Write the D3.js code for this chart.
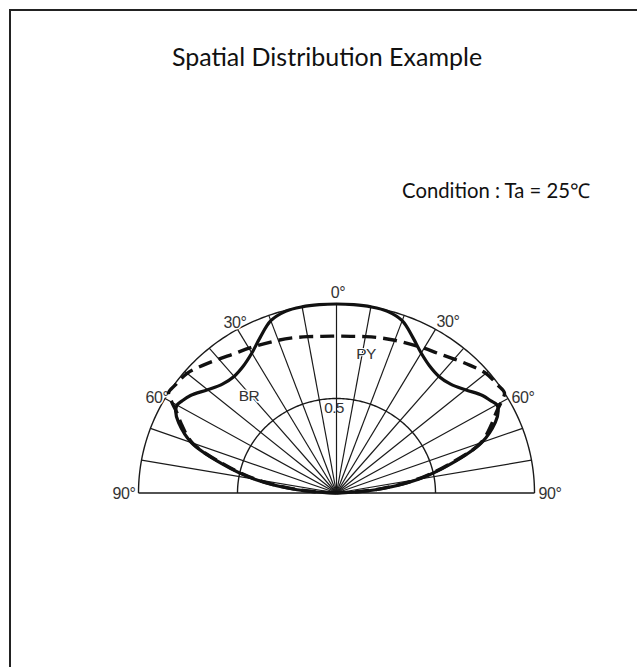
<!DOCTYPE html>
<html>
<head>
<meta charset="utf-8">
<script src="https://cdn.jsdelivr.net/npm/d3@7.9.0/dist/d3.min.js"></script>
<style>
  html, body { margin: 0; padding: 0; background: #fff; overflow: hidden; }
  svg { display: block; }
</style>
</head>
<body>
<div id="chart"></div>
<script>
// ---------- DATA ----------
const titleText = 'Spatial Distribution Example';
const conditionText = 'Condition : Ta = 25\u2103';

// angle in degrees from the 0° axis (negative = left side)
const curveAngles = [-90, -85, -80, -75, -70, -65, -62, -60, -58, -55, -50, -45, -40, -35, -30, -25, -20, -15, -10, -5,
  0, 5, 10, 15, 20, 25, 30, 35, 40, 45, 50, 55, 58, 60, 62, 65, 70, 75, 80, 85, 90];

// relative intensity, BR (solid)
const brValues = [0, 0.2, 0.42, 0.6, 0.78, 0.88, 0.92, 0.93, 0.92, 0.9, 0.85, 0.815, 0.805, 0.82, 0.855, 0.91, 0.97, 0.995, 1.0, 1.0,
  1.0, 1.0, 1.0, 0.995, 0.97, 0.91, 0.855, 0.82, 0.805, 0.815, 0.85, 0.9, 0.92, 0.935, 0.925, 0.885, 0.78, 0.6, 0.42, 0.2, 0];

// relative intensity, PY (dashed)
const pyValues = [0, 0.19, 0.41, 0.59, 0.775, 0.865, 0.915, 0.96, 1.0, 0.995, 0.985, 0.955, 0.925, 0.9, 0.885, 0.87, 0.86, 0.85, 0.84, 0.832,
  0.83, 0.832, 0.84, 0.85, 0.86, 0.87, 0.885, 0.9, 0.925, 0.955, 0.985, 0.995, 1.0, 0.96, 0.915, 0.865, 0.775, 0.59, 0.41, 0.19, 0];

const spokeAngles = [-80, -70, -60, -50, -40, -30, -20, -10, 0, 10, 20, 30, 40, 50, 60, 70, 80];
const ringValues = [0.5, 1.0];

const angleLabelAngles = [-90, -60, -30, 0, 30, 60, 90];
const angleLabelTexts = ['90°', '60°', '30°', '0°', '30°', '60°', '90°'];

// ---------- LAYOUT ----------
const width = 637;
const height = 667;
const cx = 336.5;
const cy = 493;
const rx = 198;
const ry = 189;

const svg = d3.select('#chart')
  .append('svg')
  .attr('width', width)
  .attr('height', height);

// frame: only the left and top edges are inside the crop
svg.append('path')
  .attr('d', `M10,${height} V10 H${width}`)
  .attr('fill', 'none')
  .attr('stroke', '#222')
  .attr('stroke-width', 2);

svg.append('text')
  .attr('x', 327)
  .attr('y', 66)
  .attr('text-anchor', 'middle')
  .attr('font-family', 'Lato, "Open Sans", sans-serif')
  .attr('font-size', 25)
  .attr('fill', '#111')
  .text(titleText);

svg.append('text')
  .attr('x', 590)
  .attr('y', 198)
  .attr('text-anchor', 'end')
  .attr('font-family', 'Lato, "Open Sans", sans-serif')
  .attr('font-size', 20.3)
  .attr('fill', '#111')
  .text(conditionText);

// ---------- SCALES ----------
const angleScale = d3.scaleLinear().domain([-90, 90]).range([-Math.PI / 2, Math.PI / 2]);
const rScaleX = d3.scaleLinear().domain([0, 1]).range([0, rx]);
const rScaleY = d3.scaleLinear().domain([0, 1]).range([0, ry]);

const px = (deg, r) => cx + rScaleX(r) * Math.sin(angleScale(deg));
const py = (deg, r) => cy - rScaleY(r) * Math.cos(angleScale(deg));

const g = svg.append('g');

// ---------- GRID ----------
const gridColor = '#1a1a1a';

g.append('g')
  .attr('class', 'spokes')
  .selectAll('line')
  .data(spokeAngles)
  .join('line')
  .attr('x1', cx)
  .attr('y1', cy)
  .attr('x2', (d) => px(d, 1))
  .attr('y2', (d) => py(d, 1))
  .attr('stroke', gridColor)
  .attr('stroke-width', 1.2);

const arcLine = d3.line()
  .x((d) => d[0])
  .y((d) => d[1]);

g.append('g')
  .attr('class', 'rings')
  .selectAll('path')
  .data(ringValues)
  .join('path')
  .attr('d', (r) => arcLine(d3.range(-90, 90.5, 1).map((a) => [px(a, r), py(a, r)])))
  .attr('fill', 'none')
  .attr('stroke', gridColor)
  .attr('stroke-width', 1.4);

// baseline
g.append('line')
  .attr('x1', px(-90, 1))
  .attr('y1', cy)
  .attr('x2', px(90, 1))
  .attr('y2', cy)
  .attr('stroke', gridColor)
  .attr('stroke-width', 1.4);

// ---------- LABELS ----------
const labelFont = '"Liberation Sans", Arial, sans-serif';
const labelPos = {
  '-90': [124, 499],
  '-60': [157, 403],
  '-30': [235, 328],
  '0': [338, 298],
  '30': [448, 327],
  '60': [523, 403],
  '90': [550, 499],
};

g.append('g')
  .selectAll('text')
  .data(angleLabelAngles)
  .join('text')
  .attr('x', (d) => labelPos[d][0])
  .attr('y', (d) => labelPos[d][1])
  .attr('text-anchor', 'middle')
  .attr('font-family', labelFont)
  .attr('font-size', 16)
  .attr('letter-spacing', -0.4)
  .attr('fill', '#333')
  .attr('stroke', '#fff')
  .attr('stroke-width', 3)
  .attr('paint-order', 'stroke')
  .text((d, i) => angleLabelTexts[i]);

g.append('text')
  .attr('x', 334)
  .attr('y', 413)
  .attr('text-anchor', 'middle')
  .attr('font-family', labelFont)
  .attr('font-size', 15.5)
  .attr('letter-spacing', -0.6)
  .attr('fill', '#333')
  .text('0.5');

// ---------- CURVES ----------
const curveLine = d3.line()
  .x((d) => px(d.a, d.r))
  .y((d) => py(d.a, d.r))
  .curve(d3.curveCatmullRom.alpha(0.5));

const brData = curveAngles.map((a, i) => ({ a, r: brValues[i] }));
const pyData = curveAngles.map((a, i) => ({ a, r: pyValues[i] }));

g.append('path')
  .attr('d', curveLine(brData))
  .attr('fill', 'none')
  .attr('stroke', '#111')
  .attr('stroke-width', 3.2)
  .attr('stroke-linejoin', 'round');

g.append('path')
  .attr('d', curveLine(pyData))
  .attr('fill', 'none')
  .attr('stroke', '#111')
  .attr('stroke-width', 3.4)
  .attr('stroke-dasharray', '14 7');

// series labels
g.append('text')
  .attr('x', 249)
  .attr('y', 401)
  .attr('text-anchor', 'middle')
  .attr('font-family', labelFont)
  .attr('font-size', 15.5)
  .attr('letter-spacing', -0.6)
  .attr('fill', '#333')
  .attr('stroke', '#fff')
  .attr('stroke-width', 3)
  .attr('paint-order', 'stroke')
  .text('BR');

g.append('text')
  .attr('x', 366)
  .attr('y', 359)
  .attr('text-anchor', 'middle')
  .attr('font-family', labelFont)
  .attr('font-size', 15.5)
  .attr('letter-spacing', -0.6)
  .attr('fill', '#333')
  .attr('stroke', '#fff')
  .attr('stroke-width', 2)
  .attr('paint-order', 'stroke')
  .text('PY');
</script>
</body>
</html>
